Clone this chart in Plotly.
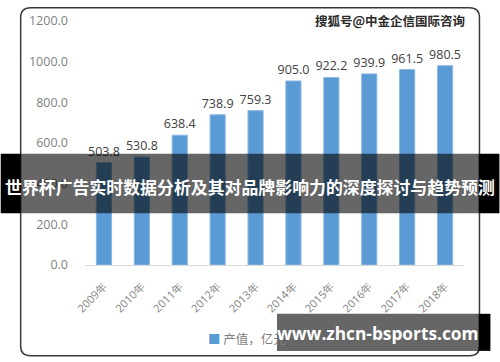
import plotly.graph_objects as go

years = ["2009年", "2010年", "2011年", "2012年", "2013年", "2014年", "2015年", "2016年", "2017年", "2018年"]
values = [503.8, 530.8, 638.4, 738.9, 759.3, 905.0, 922.2, 939.9, 961.5, 980.5]
series_name = "产值，亿元"
title_text = "世界杯广告实时数据分析及其对品牌影响力的深度探讨与趋势预测"
watermark_text = "搜狐号@中金企信国际咨询"
site_text = "www.zhcn-bsports.com"

W, H = 500, 362
L, R, T, B = 84.5, 35.5, 15, 97
PW, PH = W - L - R, H - T - B


def xp(px):
    return (px - L) / PW


def yp(py):
    return (H - B - py) / PH


fig = go.Figure()
fig.add_trace(go.Bar(
    x=years, y=values, name=series_name,
    marker=dict(color="#5B9BD5", line=dict(color="#8DB9E2", width=1)),
    texttemplate="%{y:.1f}", textposition="outside", cliponaxis=False,
    constraintext="none", textangle=0,
    textfont=dict(family="Open Sans", size=12.5, color="#404040"),
    showlegend=False,
))

shapes = []
# rounded frame
x0, x1, y0, y1, r = 20, 480, 1.5, 358, 10
path = (
    f"M {xp(x0 + r)} {yp(y0)} L {xp(x1 - r)} {yp(y0)} "
    f"Q {xp(x1)} {yp(y0)} {xp(x1)} {yp(y0 + r)} L {xp(x1)} {yp(y1 - r)} "
    f"Q {xp(x1)} {yp(y1)} {xp(x1 - r)} {yp(y1)} L {xp(x0 + r)} {yp(y1)} "
    f"Q {xp(x0)} {yp(y1)} {xp(x0)} {yp(y1 - r)} L {xp(x0)} {yp(y0 + r)} "
    f"Q {xp(x0)} {yp(y0)} {xp(x0 + r)} {yp(y0)} Z"
)
shapes.append(dict(type="path", xref="paper", yref="paper", path=path,
                   line=dict(color="#3a3a3a", width=1.5), layer="below"))


def rect(px0, px1, py0, py1, color):
    return dict(type="rect", xref="paper", yref="paper",
                x0=xp(px0), x1=xp(px1), y0=yp(py1), y1=yp(py0),
                fillcolor=color, line=dict(width=0), layer="above")


# title banner
shapes.append(rect(0, 20, 151, 212, "black"))
shapes.append(rect(479, 500, 151, 212, "black"))
shapes.append(rect(20, 479, 151, 212, "rgba(0,0,0,0.6)"))
# bottom site box
shapes.append(rect(479, 491, 315, 353, "black"))
shapes.append(rect(277, 479, 315, 353, "rgba(0,0,0,0.6)"))

annotations = [
    # legend (drawn first so the site box covers part of it)
    dict(text=f"<span style='color:#5B9BD5'>■</span> {series_name}", xref="paper", yref="paper",
         x=xp(206), y=yp(340), xanchor="left", yanchor="middle", showarrow=False,
         font=dict(family="Noto Sans CJK SC", size=12.5, color="#7f7f7f")),
    dict(text=f"<b>{title_text}</b>", xref="paper", yref="paper",
         x=xp(250), y=yp(185), xanchor="center", yanchor="middle", showarrow=False,
         font=dict(family="Noto Sans CJK SC", size=16.9, color="white")),
    dict(text=f"<b>{site_text}</b>", xref="paper", yref="paper",
         x=xp(481), y=yp(335), xanchor="right", yanchor="middle", showarrow=False,
         font=dict(family="Open Sans", size=17.3, color="white")),
    dict(text=f"<b>{watermark_text}</b>", xref="paper", yref="paper",
         x=xp(468), y=yp(14), xanchor="right", yanchor="middle", showarrow=False,
         font=dict(family="Noto Sans CJK SC", size=12.5, color="#2a2a2a")),
]

fig.update_layout(
    width=W, height=H,
    margin=dict(l=L, r=R, t=T, b=B, pad=0),
    paper_bgcolor="white", plot_bgcolor="white",
    bargap=0.6,
    showlegend=False,
    shapes=shapes,
    annotations=annotations,
    xaxis=dict(showline=True, linecolor="#d9d9d9", linewidth=1, showgrid=False,
               tickangle=-45, ticks="", ticklabelstandoff=10,
               tickfont=dict(family="Open Sans", size=11, color="#7f7f7f")),
    yaxis=dict(range=[0, 1200], dtick=200, tickformat=".1f", showgrid=False,
               zeroline=False, ticks="", ticklabelstandoff=16,
               tickfont=dict(family="Open Sans", size=12.5, color="#7f7f7f")),
)

fig.write_html("out.html", config={"displayModeBar": False},
               post_script="document.body.style.margin='0';")
